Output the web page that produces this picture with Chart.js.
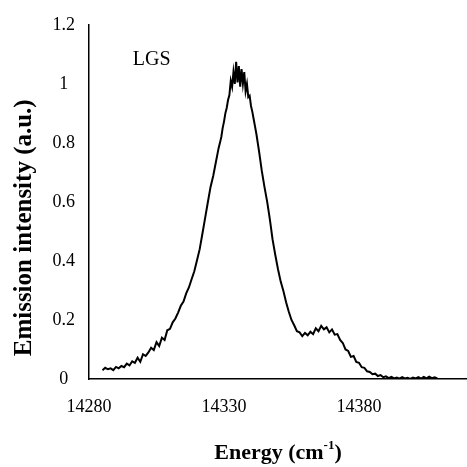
<!DOCTYPE html>
<html>
<head>
<meta charset="utf-8">
<script src="https://cdn.jsdelivr.net/npm/chart.js@4.4.1/dist/chart.umd.min.js"></script>
<style>
  html, body { margin: 0; padding: 0; background: #fff; }
  canvas { display: block; background: #fff; }
</style>
</head>
<body>
<canvas id="c" width="467" height="467"></canvas>
<script>
// ---- Data ----
const energy = [
  14285,14286,14287,14288,14289,14290,14291,14292,14293,14294,
  14295,14296,14297,14298,14299,14300,14301,14302,14303,14304,
  14305,14306,14307,14308,14309,14310,14311,14312,14313,14314,
  14315,14316,14317,14318,14319,14320,14321,14322,14323,14324,
  14325,14326,14327,14328,14328.5,14329,14329.5,14330,14330.5,14331,
  14331.5,14332,14332.5,14333,14333.5,14334,14334.5,14335,14335.5,14336,
  14336.5,14337,14337.5,14338,14338.5,14339,14339.5,14340,14340.5,14341,
  14341.5,14342,14343,14344,14345,14346,14347,14348,14349,14350,
  14351,14352,14353,14354,14355,14356,14357,14358,14359,14360,
  14361,14362,14363,14364,14365,14366,14367,14368,14369,14370,
  14371,14372,14373,14374,14375,14376,14377,14378,14379,14380,
  14381,14382,14383,14384,14385,14386,14387,14388,14389,14390,
  14391,14392,14393,14394,14395,14396,14397,14398,14399,14400,
  14401,14402,14403,14404,14405,14406,14407,14408,14409
];
const intensity = [
  0.030,0.038,0.033,0.036,0.030,0.041,0.036,0.044,0.040,0.052,
  0.046,0.060,0.055,0.072,0.058,0.084,0.078,0.090,0.106,0.098,
  0.125,0.112,0.140,0.132,0.165,0.170,0.192,0.205,0.225,0.248,
  0.262,0.290,0.310,0.338,0.365,0.402,0.440,0.492,0.545,0.598,
  0.650,0.688,0.735,0.782,0.800,0.820,0.850,0.872,0.900,0.918,
  0.945,0.962,1.010,0.990,1.040,1.000,1.075,1.005,1.060,0.990,
  1.050,1.000,1.040,0.975,1.000,0.955,0.960,0.925,0.905,0.880,
  0.855,0.830,0.770,0.705,0.650,0.600,0.540,0.472,0.420,0.372,
  0.330,0.298,0.260,0.228,0.200,0.182,0.162,0.158,0.145,0.156,
  0.148,0.160,0.152,0.172,0.162,0.180,0.168,0.175,0.158,0.168,
  0.150,0.152,0.132,0.122,0.100,0.095,0.075,0.078,0.058,0.055,
  0.040,0.038,0.026,0.024,0.016,0.018,0.010,0.013,0.006,0.009,
  0.003,0.007,0.002,0.005,0.001,0.006,0.002,0.004,0.000,0.005,
  0.002,0.006,0.001,0.007,0.002,0.008,0.003,0.006,0.002
];
const xTicks = [14280, 14330, 14380];
const yTicks = [0, 0.2, 0.4, 0.6, 0.8, 1, 1.2];
const xTitle = "Energy (cm";
const xTitleSup = "-1";
const xTitleEnd = ")";
const yTitle = "Emission intensity (a.u.)";
const sampleLabel = "LGS";

const points = energy.map((e, i) => ({ x: e, y: intensity[i] }));

const serif = "'Liberation Serif', 'Times New Roman', serif";

const textPlugin = {
  id: 'texts',
  afterDraw(chart) {
    const ctx = chart.ctx;
    const ca = chart.chartArea;
    const sx = chart.scales.x, sy = chart.scales.y;
    ctx.save();
    ctx.fillStyle = '#000';
    // sample label
    ctx.font = "20px " + serif;
    ctx.textAlign = 'left';
    ctx.textBaseline = 'alphabetic';
    ctx.fillText(sampleLabel, sx.getPixelForValue(14296.2), sy.getPixelForValue(1.065));
    // x title with superscript
    const fMain = "bold 22px " + serif;
    const fSup = "bold 13px " + serif;
    ctx.font = fMain;
    const w1 = ctx.measureText(xTitle).width;
    const w3 = ctx.measureText(xTitleEnd).width;
    ctx.font = fSup;
    const w2 = ctx.measureText(xTitleSup).width;
    const total = w1 + w2 + w3;
    let x0 = (ca.left + ca.right) / 2 - total / 2;
    const base = ca.bottom + 80;
    ctx.font = fMain;
    ctx.fillText(xTitle, x0, base);
    ctx.font = fSup;
    ctx.fillText(xTitleSup, x0 + w1, base - 10);
    ctx.font = fMain;
    ctx.fillText(xTitleEnd, x0 + w1 + w2, base);
    // y title rotated
    ctx.font = "bold 25px " + serif;
    ctx.translate(31, ca.top + 203);
    ctx.rotate(-Math.PI / 2);
    ctx.textAlign = 'center';
    ctx.fillText(yTitle, 0, 0);
    ctx.restore();
  }
};

new Chart(document.getElementById('c'), {
  type: 'line',
  data: {
    datasets: [{
      data: points,
      borderColor: '#000',
      borderWidth: 2,
      pointRadius: 0,
      tension: 0,
      fill: false
    }]
  },
  options: {
    responsive: false,
    animation: false,
    layout: { padding: { top: 18, right: 0, left: 0, bottom: 0 } },
    plugins: { legend: { display: false }, tooltip: { enabled: false } },
    scales: {
      x: {
        type: 'linear',
        min: 14280,
        max: 14420,
        afterBuildTicks: s => { s.ticks = xTicks.map(v => ({ value: v })); },
        afterFit: s => { s.height = 88; },
        grid: { display: false, drawTicks: false },
        border: { display: true, color: '#000', width: 1.5 },
        ticks: {
          padding: 17,
          color: '#000',
          font: { family: serif, size: 18 },
          callback: v => String(v)
        }
      },
      y: {
        min: 0,
        max: 1.2,
        afterBuildTicks: s => { s.ticks = yTicks.map(v => ({ value: v })); },
        afterFit: s => { s.width = 89; },
        grid: { display: false, drawTicks: false },
        border: { display: true, color: '#000', width: 1.5 },
        ticks: {
          padding: 14,
          crossAlign: 'center',
          color: '#000',
          font: { family: serif, size: 18 },
          callback: v => String(v)
        }
      }
    }
  },
  plugins: [textPlugin]
});
</script>
</body>
</html>
